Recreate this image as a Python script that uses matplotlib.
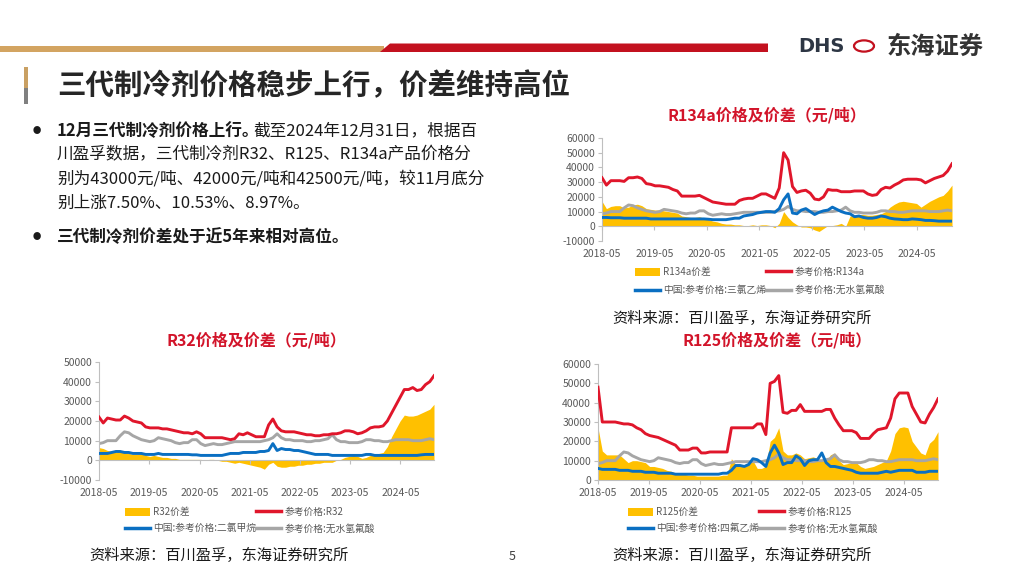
import numpy as np
import pandas as pd
import matplotlib
matplotlib.use("Agg")
import matplotlib.pyplot as plt
from matplotlib.patches import Polygon, Rectangle, Patch, Circle
from matplotlib.lines import Line2D

plt.rcParams['font.family'] = ['Noto Sans CJK SC', 'DejaVu Sans']
plt.rcParams['axes.unicode_minus'] = False

# monthly readings, 2018-05 .. 2024-12 (80 points)
hf_price = [8500, 9000, 10000, 10000, 10000, 12500, 14500, 14000,
            12500, 11500, 10500, 10000, 9500, 10000, 11500, 11000, 10500, 10000, 9000, 8500,
            9000, 9000, 10500, 10500, 8500, 7500, 8000, 8500, 8000, 8000, 8500, 9000,
            9500, 9500, 9500, 9500, 9500, 9500, 9500, 10000, 10500, 11500, 13500, 11500,
            10500, 10500, 10000, 10000, 10000, 9500, 9500, 10000, 10000, 10500, 11000, 13000,
            10500, 9500, 9500, 9000, 9000, 9000, 9500, 10500, 10500, 10000, 10000, 9500,
            9500, 10000, 10500, 10500, 10500, 10500, 10000, 10000, 10000, 10500, 11000, 10500]

r134a_price = [33000, 28000, 31000, 31000, 31000, 30500, 33000, 33000,
               33500, 32500, 29000, 28500, 27500, 27500, 27000, 26500, 25000, 24000, 20500, 20500,
               20500, 20500, 21000, 19500, 18000, 16500, 16000, 15500, 15000, 15000, 15000, 17500,
               18500, 19000, 19000, 20500, 22000, 22000, 20500, 19000, 26000, 50000, 45000, 27000,
               23000, 24000, 24500, 22500, 18500, 18000, 20000, 25000, 24500, 24500, 23500, 23500,
               23500, 24000, 24000, 24000, 22000, 21000, 21500, 25000, 26500, 26000, 28000, 29500,
               31500, 32000, 32000, 32000, 31500, 29500, 31000, 32500, 33500, 34500, 37500, 42500]
tce_price = [6000, 6000, 5800, 5800, 5800, 5500, 5500, 5500,
             5500, 5500, 5500, 5000, 5000, 5000, 5000, 5000, 5000, 5000, 5000, 5000,
             5000, 5000, 5000, 5000, 4800, 4500, 4500, 4500, 4500, 5000, 5500, 5500,
             7000, 7500, 8000, 9000, 9500, 10000, 10000, 9500, 12000, 18000, 22000, 9000,
             8500, 11000, 12000, 10000, 8000, 9500, 10500, 11000, 13000, 11500, 10000, 9000,
             8500, 6500, 7000, 6000, 5500, 5500, 6000, 7000, 6500, 5500, 5000, 4800,
             4500, 4500, 5000, 4800, 4500, 4000, 4000, 3800, 3500, 3500, 3500, 3500]
r134a_spread = [17000, 12000, 13500, 14000, 14000, 12500, 13000, 14500,
                15000, 14000, 12000, 11500, 11000, 11000, 10500, 10000, 9500, 9000, 7000, 6500,
                6000, 6000, 6500, 5500, 4500, 3500, 3000, 2000, 1500, 1500, 1000, 1000,
                500, 500, 1000, 500, 1000, 1000, 500, -1000, 2000, 10000, 6000, 3000,
                1000, -500, -500, -1000, -2500, -3500, -1500, 500, 500, 1000, 2000, 0,
                7000, 7500, 8000, 8000, 7500, 7500, 8000, 8500, 10000, 13000, 15000, 16500,
                17000, 16500, 16000, 15500, 13000, 15000, 17000, 18500, 20000, 21000, 24000, 28000]

r32_price = [22000, 19000, 21500, 21000, 20500, 20500, 22500, 21500,
             20000, 19500, 19000, 17000, 16500, 16500, 16500, 16000, 16000, 15500, 15000, 14500,
             14000, 14000, 13500, 14500, 13500, 11500, 11500, 11500, 11500, 11500, 11000, 10500,
             11000, 13500, 13000, 14000, 13000, 12000, 12000, 12000, 18000, 21000, 17000, 15000,
             14500, 14500, 14500, 14000, 13500, 13000, 13000, 12500, 12500, 13000, 13000, 13500,
             13500, 14000, 15000, 15000, 14500, 13500, 14000, 15000, 16500, 17000, 17000, 17500,
             20000, 24000, 28000, 32000, 36000, 36000, 37000, 35500, 36000, 38500, 40000, 43000]
dcm_price = [3500, 3500, 3500, 4000, 4500, 4500, 4000, 4000,
             3500, 3500, 3500, 3000, 3000, 3000, 3500, 3000, 3000, 3000, 3000, 3000,
             3000, 3000, 2800, 2800, 2500, 2500, 2500, 2500, 2500, 2500, 3000, 3500,
             3500, 3500, 4000, 4000, 4000, 4000, 4500, 4500, 5000, 8500, 5000, 6000,
             5500, 5500, 5000, 5000, 4500, 4000, 3500, 3000, 3000, 3000, 3000, 2500,
             2500, 2500, 2500, 2500, 2500, 2500, 2500, 3000, 3000, 2500, 2500, 2500,
             2500, 2500, 2500, 2500, 2500, 2500, 2500, 2500, 2800, 3000, 3000, 3000]
r32_spread = [6500, 6000, 5000, 4500, 4000, 5000, 4500, 3500,
              3000, 3000, 3500, 2500, 2000, 2500, 2000, 1500, 1500, 1000, 1000, 500,
              500, 500, 500, 500, 500, 0, 500, 500, 0, -500, -500, -1000,
              -1500, -1000, -1500, -2000, -2500, -3000, -3500, -4500, -2000, -1000, -3000, -3500,
              -3500, -3000, -3000, -2500, -2500, -2000, -2000, -1500, -1500, -1000, -1000, -1000,
              0, 500, 1500, 2000, 2500, 2000, 1000, 1500, 2500, 3000, 3500, 4000,
              7000, 12000, 16000, 20000, 23000, 22500, 22500, 23000, 24000, 25000, 26000, 28500]

r125_price = [48000, 30000, 30000, 30000, 30000, 29500, 29000, 29000,
              28500, 27000, 26000, 24000, 23000, 22500, 22000, 21000, 20000, 19000, 18000, 15500,
              15500, 15500, 16500, 16500, 14000, 14000, 14500, 14500, 14500, 14500, 14500, 27000,
              27000, 27000, 27000, 27000, 27000, 29000, 29000, 23500, 50000, 51000, 54000, 35000,
              34500, 36000, 36000, 39000, 35500, 35500, 35500, 35500, 35500, 36500, 36500, 32000,
              28500, 25500, 25500, 25500, 24500, 21500, 21500, 21500, 24000, 26000, 26500, 27000,
              32000, 42000, 45000, 45000, 45000, 38000, 34000, 30000, 29500, 34000, 37500, 42000]
tfe_price = [6000, 5500, 5500, 5500, 5500, 5000, 5000, 5000,
             4500, 4500, 4500, 4000, 4000, 4000, 3500, 3500, 3500, 3500, 3000, 3000,
             3000, 3000, 3000, 3000, 3000, 3000, 3000, 3000, 3000, 3500, 3500, 5000,
             7500, 7500, 7000, 8000, 11000, 10500, 9000, 7000, 14000, 18000, 14000, 8000,
             9000, 9000, 12500, 11000, 7500, 10000, 10500, 10500, 14000, 9000, 7000, 7000,
             6500, 6000, 5500, 5000, 4000, 3500, 3500, 3500, 3500, 3500, 4000, 4500,
             4000, 4500, 5000, 5000, 5000, 5000, 4000, 4000, 4000, 4500, 4500, 4500]
r125_spread = [27000, 15000, 13000, 13000, 13000, 13000, 11000, 9000,
               10000, 10000, 9500, 9000, 7000, 7000, 6500, 6000, 5000, 4500, 3500, 3000,
               3000, 2500, 2500, 2000, 2000, 2000, 2000, 2000, 2000, 2500, 2500, 11000,
               8000, 8000, 8000, 8500, 10000, 6000, 6000, 7000, 20000, 22000, 27000, 15000,
               13000, 13000, 14000, 13000, 11000, 11500, 12000, 11000, 10000, 10000, 13000, 14000,
               10000, 8000, 8500, 9000, 9000, 7000, 6000, 6500, 7000, 8000, 9000, 10000,
               15000, 24000, 27000, 27500, 27000, 20000, 17000, 14000, 13000, 19000, 21000, 25000]

tick_labels = ['2018-05', '2019-05', '2020-05', '2021-05', '2022-05', '2023-05', '2024-05']
source_text = '资料来源：百川盈孚，东海证券研究所'

dates = pd.date_range('2018-05-01', '2024-12-31', periods=len(hf_price))
tick_dates = pd.to_datetime([t + '-01' for t in tick_labels])

YELLOW = '#FFC000'
RED = '#E0162B'
BLUE = '#0A6FC2'
GRAY = '#A6A6A6'
TITLE_RED = '#D2142A'
TXT = '#595959'

W, H = 1024, 576
fig = plt.figure(figsize=(W / 100, H / 100), dpi=100)
fig.patch.set_facecolor('white')


def fx(x):
    return x / W


def fy(y):
    return 1 - y / H


def box(x0, y0, x1, y1):
    return [fx(x0), fy(y1), (x1 - x0) / W, (y1 - y0) / H]


# header decoration
fig.add_artist(Rectangle((0, fy(51.5)), fx(384), 5 / H, transform=fig.transFigure,
                         color='#D3A461', lw=0))
fig.add_artist(Polygon([(fx(380), fy(52)), (fx(390), fy(43.5)), (fx(768), fy(43.5)), (fx(768), fy(52))],
                       closed=True, transform=fig.transFigure, color='#C3111F', lw=0))
fig.text(fx(821), fy(47), 'DHS', fontsize=14, fontweight='bold', color='#2D3644',
         ha='center', va='center', family=['DejaVu Sans'])
fig.add_artist(Circle((fx(864), fy(46)), 10 / W, transform=fig.transFigure, fill=False,
                      ec='#C3111F', lw=1.6))
fig.text(fx(935), fy(47), '东海证券', fontsize=17.5, fontweight='bold', color='#333333',
         ha='center', va='center')

fig.add_artist(Rectangle((fx(24), fy(88)), 3.5 / W, 21 / H, transform=fig.transFigure,
                         color='#C9A063', lw=0))
fig.add_artist(Rectangle((fx(24), fy(104)), 3.5 / W, 16 / H, transform=fig.transFigure,
                         color='#808080', lw=0))
fig.text(fx(57), fy(86), '三代制冷剂价格稳步上行，价差维持高位', fontsize=20.5,
         fontweight='bold', color='#262626', ha='left', va='center')

# bullet text
bfs = 12
fig.text(fx(37), fy(131), '●', fontsize=6, color='#1A1A1A', ha='center', va='center')
fig.text(fx(57), fy(131), '12月三代制冷剂价格上行。', fontsize=bfs, fontweight='bold',
         color='#1A1A1A', ha='left', va='center')
fig.text(fx(253), fy(131), '截至2024年12月31日，根据百', fontsize=bfs,
         color='#1A1A1A', ha='left', va='center')
body_lines = ['川盈孚数据，三代制冷剂R32、R125、R134a产品价格分',
              '别为43000元/吨、42000元/吨和42500元/吨，较11月底分',
              '别上涨7.50%、10.53%、8.97%。']
for i, line in enumerate(body_lines):
    fig.text(fx(57), fy(155 + 24 * i), line, fontsize=bfs, color='#1A1A1A',
             ha='left', va='center')
fig.text(fx(37), fy(237), '●', fontsize=6, color='#1A1A1A', ha='center', va='center')
fig.text(fx(57), fy(237), '三代制冷剂价差处于近5年来相对高位。', fontsize=bfs,
         fontweight='bold', color='#1A1A1A', ha='left', va='center')

fig.text(fx(512), fy(557), '5', fontsize=9, color='#404040', ha='center', va='center')


def draw_chart(rect, spread, price, raw, ylo, yhi, title, title_xy, names, leg_xy, leg_gap, src_xy):
    ax = fig.add_axes(box(*rect))
    ax.set_facecolor('none')
    ax.fill_between(dates, spread, 0, color=YELLOW, lw=0, zorder=1)
    ax.plot(dates, price, color=RED, lw=2.1, zorder=3)
    ax.plot(dates, raw, color=BLUE, lw=2.1, zorder=3)
    ax.plot(dates, hf_price, color=GRAY, lw=2.1, zorder=2)
    ax.set_ylim(ylo, yhi)
    ax.set_yticks(np.arange(ylo, yhi + 1, 10000))
    ax.set_yticklabels([str(v) for v in np.arange(ylo, yhi + 1, 10000)])
    ax.set_xlim(dates[0], dates[-1])
    ax.set_xticks(tick_dates)
    ax.set_xticklabels(tick_labels)
    for s in ['top', 'right']:
        ax.spines[s].set_visible(False)
    ax.spines['left'].set_color('#BFBFBF')
    ax.spines['bottom'].set_color('#BFBFBF')
    ax.spines['bottom'].set_position(('data', 0))
    ax.spines['left'].set_linewidth(0.8)
    ax.spines['bottom'].set_linewidth(0.8)
    h_px = rect[3] - rect[1]
    zero_px = (0 - ylo) / (yhi - ylo) * h_px
    ax.tick_params(axis='y', labelsize=7.5, labelcolor=TXT, color='#BFBFBF', length=3, pad=2)
    ax.tick_params(axis='x', labelsize=7.5, labelcolor=TXT, color='#BFBFBF', length=3,
                   pad=(zero_px + 4) * 0.72)
    fig.text(fx(title_xy[0]), fy(title_xy[1]), title, fontsize=11.5, fontweight='bold',
             color=TITLE_RED, ha='center', va='center')
    handles = [Patch(facecolor=YELLOW, edgecolor='none'),
               Line2D([], [], color=BLUE, lw=2.5),
               Line2D([], [], color=RED, lw=2.5),
               Line2D([], [], color=GRAY, lw=2.5)]
    leg = ax.legend(handles, [names[0], names[2], names[1], names[3]], ncol=2,
                    loc='upper left', bbox_to_anchor=(fx(leg_xy[0]), fy(leg_xy[1])),
                    bbox_transform=fig.transFigure, frameon=False, fontsize=7,
                    handlelength=2.6, handleheight=0.9, handletextpad=0.3,
                    columnspacing=0.0, labelspacing=leg_gap, borderpad=0, borderaxespad=0)
    for t in leg.get_texts():
        t.set_color(TXT)
    fig.text(fx(src_xy[0]), fy(src_xy[1]), source_text, fontsize=11, color='#1A1A1A',
             ha='center', va='center')
    return ax


draw_chart((602, 138, 952, 241), r134a_spread, r134a_price, tce_price, -10000, 60000,
           'R134a价格及价差（元/吨）', (767, 115),
           ['R134a价差', '参考价格:R134a', '中国:参考价格:三氯乙烯', '参考价格:无水氢氟酸'],
           (635, 267), 0.85, (742, 318))
draw_chart((99, 362, 434, 480), r32_spread, r32_price, dcm_price, -10000, 50000,
           'R32价格及价差（元/吨）', (256, 340),
           ['R32价差', '参考价格:R32', '中国:参考价格:二氯甲烷', '参考价格:无水氢氟酸'],
           (125, 507), 0.65, (219, 555))
draw_chart((598, 364, 938, 480), r125_spread, r125_price, tfe_price, 0, 60000,
           'R125价格及价差（元/吨）', (777, 340),
           ['R125价差', '参考价格:R125', '中国:参考价格:四氟乙烯', '参考价格:无水氢氟酸'],
           (628, 507), 0.65, (742, 555))

fig.savefig('out.png', dpi=100, facecolor='white')
